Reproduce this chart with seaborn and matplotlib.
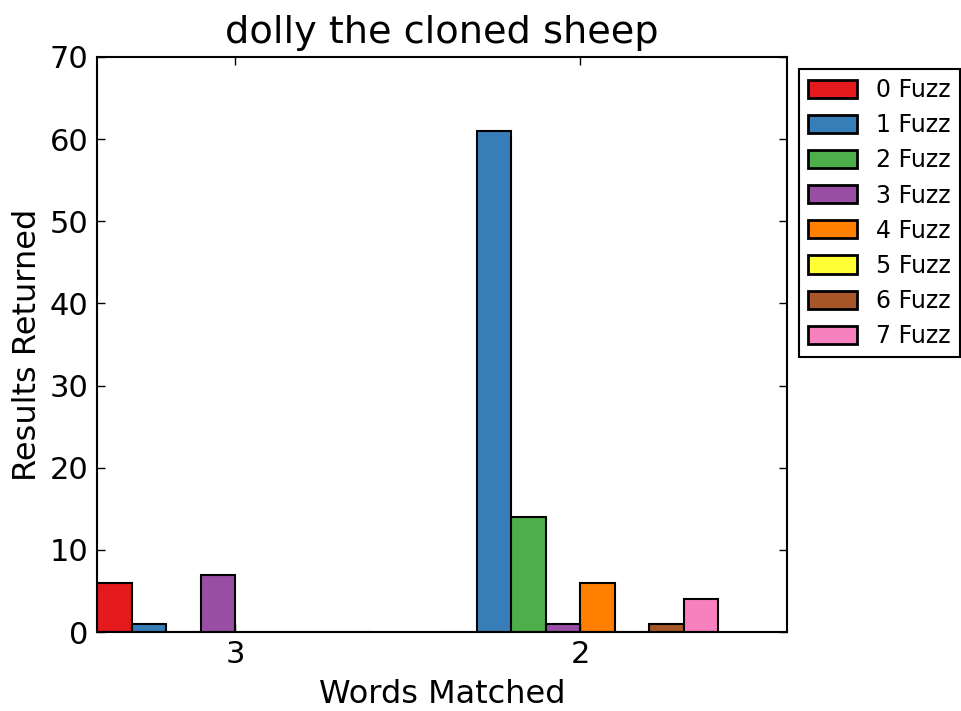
import matplotlib
matplotlib.use("Agg")
import matplotlib.pyplot as plt
import seaborn as sns
import pandas as pd

words_matched = ["3", "2"]
fuzz_levels = ["0 Fuzz", "1 Fuzz", "2 Fuzz", "3 Fuzz", "4 Fuzz", "5 Fuzz", "6 Fuzz", "7 Fuzz"]
results_3 = [6, 1, 0, 7, 0, 0, 0, 0]
results_2 = [0, 61, 14, 1, 6, 0, 1, 4]
colors = ["#e41a1c", "#377eb8", "#4daf4a", "#984ea3", "#ff7f00", "#ffff33", "#a65628", "#f781bf"]

rows = []
for w, vals in zip(words_matched, [results_3, results_2]):
    for f, v in zip(fuzz_levels, vals):
        rows.append({"Words Matched": w, "Fuzz": f, "Results Returned": v})
df = pd.DataFrame(rows)

plt.rcParams["font.family"] = ["DejaVu Sans"]
plt.rcParams["xtick.direction"] = "in"
plt.rcParams["ytick.direction"] = "in"

fig = plt.figure(figsize=(9.61, 7.11), dpi=100)
ax = fig.add_axes([97 / 961, 1 - 632 / 711, (787 - 97) / 961, (632 - 57) / 711])

sns.barplot(data=df, x="Words Matched", y="Results Returned", hue="Fuzz",
            order=words_matched, hue_order=fuzz_levels, palette=colors,
            edgecolor="black", linewidth=1.5, saturation=1, ax=ax, errorbar=None)

ax.set_xlim(-0.4, 1.6)
ax.set_ylim(0, 70)
ax.set_yticks(range(0, 71, 10))
ax.tick_params(axis="both", labelsize=22, top=True, right=True, length=6, width=1, pad=6)
for s in ax.spines.values():
    s.set_linewidth(1.5)
ax.set_title("dolly the cloned sheep", fontsize=27.5, pad=10)
ax.set_xlabel("Words Matched", fontsize=23, labelpad=7)
ax.set_ylabel("Results Returned", fontsize=23, labelpad=5)

leg = ax.legend(loc="upper left", bbox_to_anchor=(1.0, 1.0), fontsize=17,
                frameon=True, fancybox=False, framealpha=1, edgecolor="black",
                borderaxespad=0.5, handlelength=2.05, handleheight=0.8,
                labelspacing=0.47, handletextpad=0.8)
leg.get_frame().set_linewidth(1.5)
for h in leg.legend_handles:
    h.set_linewidth(2)

fig.savefig("out.png", dpi=100)
